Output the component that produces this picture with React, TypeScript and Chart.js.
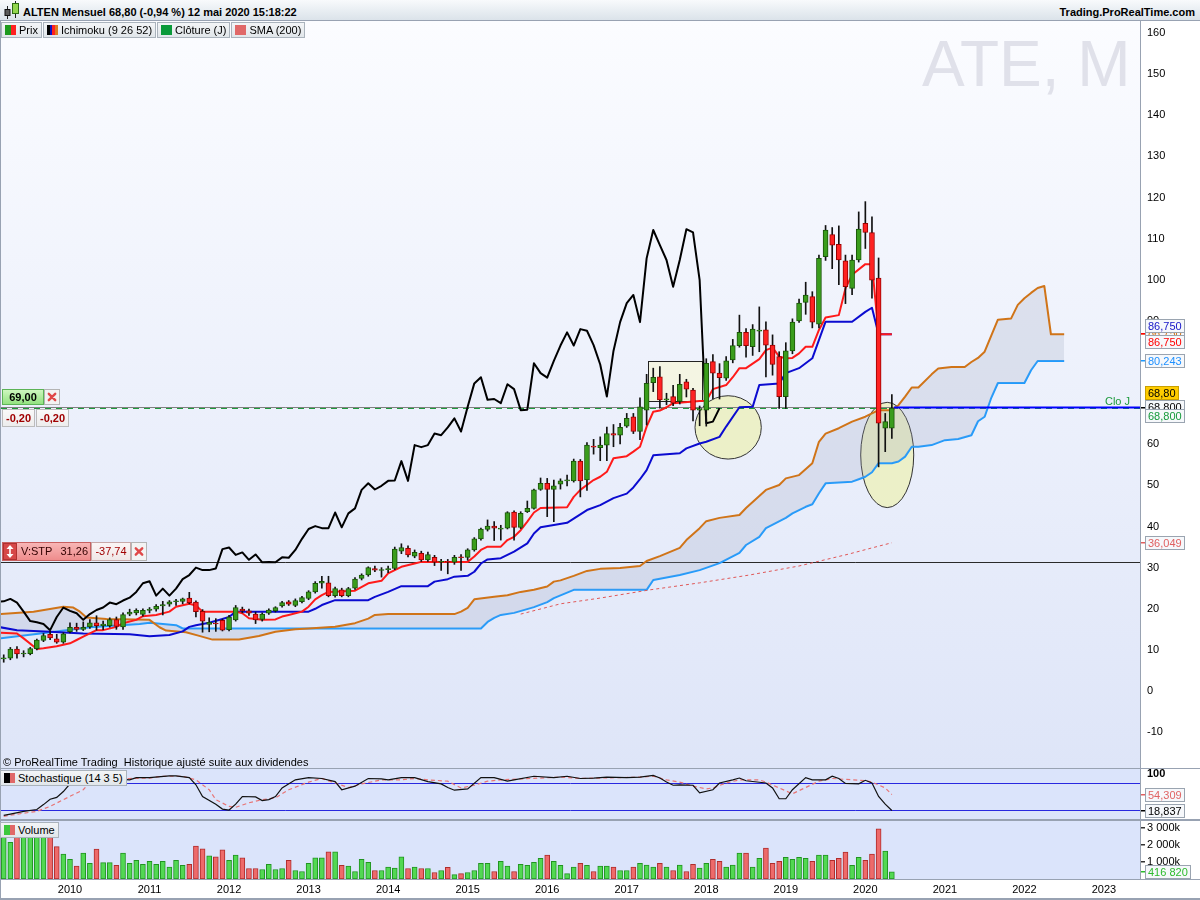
import React, { useEffect, useRef } from "react";
import { Chart, registerables } from "chart.js";

Chart.register(...registerables);

const FONT = 'Arial, "Liberation Sans", Helvetica, sans-serif';

// ---------------- data ----------------
// month index: 0 = January 2009. First candle = March 2009 (index 2), last = May 2020 (index 136)
const FIRST_MONTH = 2;

const OPEN = [
  7.8, 8.0, 10.2, 9.0, 9.1, 10.3, 12.3, 13.8, 12.7, 11.9,
  14.4, 15.5, 15.0, 15.6, 16.6, 15.9, 15.9, 17.4, 15.6, 18.7, 19.0, 18.6,
  19.6, 19.9, 20.7, 21.1, 21.7, 21.8, 22.6, 21.6, 19.4, 16.2, 16.5, 17.2,
  14.9, 17.3, 19.9, 19.5, 18.7, 17.4, 18.9, 19.5, 20.7, 21.7, 20.8, 21.7,
  22.5, 24.1, 26.2, 26.3, 23.2, 24.6, 23.2, 25.0, 27.4, 28.2, 29.8, 29.3,
  29.5, 29.8, 34.0, 34.7, 32.8, 33.5, 31.9, 32.5, 31.3, 31.4, 31.3, 32.5,
  32.5, 34.3, 37.0, 39.3, 40.1, 39.6, 39.6, 43.5, 39.8, 43.6, 44.4, 49.0,
  50.5, 49.0, 50.3, 51.1, 51.1, 55.9, 51.3, 59.5, 59.2, 59.8, 62.6, 62.2,
  64.4, 66.7, 63.1, 68.3, 75.0, 76.4, 70.8, 71.6, 70.4, 75.2, 73.2, 68.3,
  68.3, 80.1, 77.3, 76.1, 80.5, 84.0, 87.2, 83.7, 87.5, 87.8, 84.1, 81.3,
  71.6, 82.7, 90.0, 94.5, 95.9, 89.2, 105.6, 111.0, 108.6, 104.6, 97.9, 104.8,
  113.7, 111.5, 100.4, 63.9, 63.9,
];
const HIGH = [
  8.8, 10.6, 10.8, 9.8, 10.6, 12.6, 14.0, 14.5, 13.8, 14.2,
  16.6, 16.5, 16.8, 17.4, 18.3, 17.0, 17.8, 18.0, 19.0, 19.9, 20.0, 20.0,
  20.3, 21.0, 21.8, 22.0, 22.3, 22.6, 24.0, 21.9, 19.8, 17.8, 17.6, 17.5,
  18.4, 20.8, 20.4, 19.9, 19.2, 19.0, 20.0, 20.5, 21.8, 22.0, 22.4, 23.0,
  24.4, 26.6, 27.9, 27.9, 25.3, 25.0, 25.2, 27.6, 28.5, 30.2, 30.4, 30.0,
  30.4, 35.0, 35.8, 35.3, 34.3, 34.0, 33.8, 33.0, 32.0, 32.0, 33.0, 33.2,
  34.6, 37.3, 39.6, 41.6, 41.2, 40.3, 43.6, 43.8, 43.6, 46.2, 49.1, 51.8,
  51.7, 51.3, 51.6, 52.5, 56.4, 56.3, 60.4, 61.2, 61.8, 64.2, 64.8, 65.1,
  67.5, 67.5, 71.3, 77.0, 78.5, 78.9, 72.4, 74.3, 77.0, 75.8, 73.6, 69.3,
  80.8, 81.8, 79.6, 81.3, 85.5, 91.4, 88.1, 89.1, 93.4, 89.8, 86.6, 82.5,
  84.7, 90.5, 95.3, 99.4, 97.1, 106.0, 113.2, 112.7, 113.1, 106.0, 106.0, 116.5,
  119.0, 115.3, 105.3, 67.5, 72.1,
];
const LOW = [
  7.0, 7.6, 8.0, 8.3, 8.8, 10.0, 12.0, 12.5, 11.6, 11.6,
  14.1, 14.5, 14.7, 15.2, 14.8, 14.9, 15.5, 15.0, 15.0, 18.3, 18.5, 18.2,
  19.0, 19.4, 18.5, 20.6, 20.8, 21.2, 21.2, 18.0, 14.3, 14.4, 14.5, 14.6,
  14.6, 17.0, 19.0, 18.4, 16.4, 17.0, 18.6, 19.2, 20.4, 20.8, 20.5, 21.4,
  22.2, 23.8, 25.0, 22.9, 22.8, 22.9, 22.9, 24.7, 27.0, 27.9, 29.0, 27.7,
  28.8, 29.5, 33.4, 32.6, 32.4, 31.5, 31.5, 30.5, 29.3, 28.5, 30.8, 29.3,
  31.8, 34.0, 36.7, 38.9, 36.6, 36.7, 39.4, 36.7, 39.5, 43.4, 44.2, 48.8,
  42.4, 41.2, 49.1, 49.9, 50.8, 47.2, 48.8, 57.6, 56.0, 56.0, 59.4, 60.1,
  64.1, 62.6, 61.1, 64.7, 72.8, 68.8, 69.6, 69.4, 69.8, 71.5, 65.7, 64.5,
  64.4, 71.1, 71.0, 75.5, 79.8, 83.6, 81.2, 81.6, 82.5, 76.4, 76.8, 68.7,
  68.7, 82.0, 89.6, 91.6, 88.3, 88.3, 104.7, 102.7, 98.8, 94.2, 96.4, 104.3,
  107.6, 95.5, 54.5, 58.2, 61.4,
];
const CLOSE = [
  7.9, 10.2, 9.0, 9.1, 10.3, 12.4, 13.5, 12.9, 11.9, 13.9,
  15.5, 15.0, 15.5, 16.6, 15.9, 16.3, 17.4, 15.7, 18.6, 19.2, 19.6, 19.6,
  19.9, 20.6, 21.0, 21.7, 21.8, 22.4, 21.5, 19.3, 17.0, 16.7, 16.3, 14.8,
  18.0, 20.3, 19.5, 18.9, 17.3, 18.7, 19.7, 20.3, 21.5, 21.1, 22.0, 22.7,
  24.1, 26.2, 26.7, 23.2, 24.9, 23.2, 24.9, 27.2, 28.2, 30.0, 29.4, 29.4,
  29.8, 34.5, 34.9, 33.1, 33.7, 31.9, 33.2, 31.3, 31.4, 31.3, 32.5, 32.4,
  34.3, 37.0, 39.4, 40.1, 39.6, 39.6, 43.4, 39.8, 43.2, 44.4, 48.9, 50.5,
  49.0, 49.9, 51.1, 51.2, 55.9, 51.1, 59.8, 59.3, 59.8, 62.6, 62.2, 64.1,
  66.3, 63.1, 69.1, 74.8, 76.3, 70.8, 71.0, 70.0, 74.6, 73.4, 68.3, 68.4,
  79.7, 77.3, 76.2, 80.3, 84.0, 87.2, 84.0, 88.0, 87.6, 84.1, 79.4, 71.6,
  82.7, 89.7, 94.3, 96.3, 89.7, 105.2, 112.1, 108.4, 104.8, 98.3, 104.8, 112.3,
  111.5, 99.9, 65.1, 65.5, 68.8,
];
// monthly volume, thousands of shares
const VOLUME_K = [
  2600, 2160, 2800, 2600, 2500, 2900, 2500, 2450, 1900, 1460,
  1160, 760, 1520, 920, 1760, 960, 960, 800, 1520, 920, 1100, 860,
  1040, 860, 1040, 700, 1100, 800, 860, 1940, 1780, 1360, 1300, 1720,
  1100, 1400, 1240, 620, 620, 560, 860, 560, 620, 1100, 500, 440,
  920, 1240, 1240, 1600, 1600, 800, 760, 440, 1160, 980, 500, 500,
  700, 640, 1300, 620, 700, 620, 620, 380, 500, 680, 260, 320,
  380, 500, 920, 920, 440, 1040, 760, 440, 860, 800, 980, 1220,
  1400, 1040, 800, 320, 700, 920, 800, 440, 760, 760, 700, 500,
  500, 700, 920, 820, 700, 920, 700, 500, 820, 440, 860, 640,
  920, 1160, 1040, 700, 820, 1520, 1520, 700, 1220, 1820, 920, 1040,
  1280, 1160, 1280, 1220, 1040, 1400, 1400, 1100, 1220, 1580, 800, 1280,
  1100, 1460, 2950, 1640, 416.82,
];

// Ichimoku (9 26 52) lines: [month index, value]
const TENKAN = [
  [1.5, 14.2], [4, 14.0], [5, 12.8], [7, 10.2], [8, 10.4], [10, 10.9], [12, 11.6], [13, 12.4], [14, 13.2], [15, 14.0],
  [16, 14.8], [17, 14.8], [19, 15.6], [20, 16.5], [22, 17.3], [23, 18.2], [25, 18.5], [27, 19.3], [28, 20.5], [30, 21.2],
  [31, 20.8], [32, 19.3], [37, 19.3], [38, 18.9], [39, 17.7], [41, 17.3], [43, 17.4], [44, 18.1], [45, 18.5], [47, 19.3],
  [48, 20.5], [49, 22.3], [50, 23.3], [51, 24.1], [55, 24.4], [57, 26.2], [59, 26.8], [60, 28.6], [61, 29.4], [62, 30.2],
  [64, 31.0], [65, 31.4], [72, 31.4], [73, 32.7], [74, 34.3], [75, 35.1], [77, 35.1], [78, 36.7], [79, 37.5], [80, 39.1],
  [81, 41.2], [82, 43.4], [83, 44.5], [87, 44.7], [88, 47.2], [89, 48.9], [91, 51.3], [92, 52.1], [93, 53.3], [94, 56.6],
  [96, 57.1], [97, 58.2], [98, 59.4], [99, 64.3], [100, 67.9], [101, 68.2], [102, 69.0], [103, 70.0], [107, 70.5], [108, 70.6],
  [109, 73.4], [111, 74.4], [112, 76.3], [113, 78.5], [114, 78.5], [116, 80.7], [117, 82.9], [118, 83.5], [119, 81.3], [120, 80.9],
  [121, 81.0], [122, 82.1], [123, 83.7], [124, 83.7], [125, 87.8], [126, 90.8], [128, 91.4], [129, 97.9], [130, 101.2], [132, 103.8],
  [133, 103.8], [134, 86.75], [136, 86.75],
];
const KIJUN = [
  [1.5, 15.5], [4, 14.8], [9, 14.4], [14, 14.0], [21, 13.8], [24, 13.3], [27, 13.6], [29, 14.5], [30, 15.6], [31, 16.0],
  [33, 16.6], [35, 17.5], [36, 18.0], [37, 19.3], [48, 19.3], [49, 20.0], [50, 20.9], [52, 22.1], [57, 22.1], [58, 22.9],
  [60, 24.1], [62, 25.5], [66, 25.5], [67, 26.6], [69, 27.2], [70, 27.8], [72, 28.0], [73, 29.0], [74, 31.0], [75, 32.0],
  [77, 32.3], [79, 33.9], [81, 35.9], [82, 38.3], [83, 39.8], [87, 40.9], [88, 41.9], [90, 44.0], [92, 45.2], [94, 46.9],
  [96, 48.0], [97, 49.5], [98, 51.5], [99, 53.7], [100, 57.3], [104, 57.8], [105, 59.0], [107, 60.2], [108, 60.6], [110, 61.8],
  [111, 64.3], [113, 69.0], [115, 69.1], [116, 74.4], [119, 74.8], [120, 77.3], [122, 78.5], [124, 80.9], [126, 89.8], [130, 89.8],
  [132, 92.2], [133, 93.2], [134, 86.75], [136, 86.75],
];
const SENKOU_A = [
  [1.5, 18.7], [6.5, 19.3], [11, 20.5], [12.5, 20.3], [13.5, 19.3], [14.5, 17.9], [17.5, 17.5], [24, 17.3], [25.5, 15.5], [26.5, 14.7],
  [29.5, 14.3], [31.5, 13.4], [33.5, 12.5], [37.5, 12.5], [40.5, 13.4], [43, 14.4], [46, 15.0], [48, 15.2], [52, 15.6], [55, 16.5],
  [57, 17.6], [58, 18.5], [60, 18.7], [70, 18.7], [71, 19.3], [72, 20.2], [73, 22.3], [76, 22.9], [78, 23.3], [80, 24.1],
  [82, 24.6], [84, 25.4], [85, 26.6], [86, 26.9], [88, 28.0], [90, 29.2], [92, 29.7], [95, 29.9], [98, 30.4], [99, 31.6],
  [101, 32.8], [104, 34.8], [105, 36.7], [107, 39.6], [108, 41.3], [110, 42.1], [113, 42.8], [114, 44.5], [116, 47.4], [117, 48.9],
  [119, 50.1], [120, 51.7], [122, 52.5], [124, 55.4], [125, 60.6], [126, 62.6], [128, 63.9], [130, 65.5], [132, 66.7], [133, 67.5],
  [134, 68.3], [136, 68.3], [137, 69.5], [138, 71.6], [139, 73.8], [140, 73.8], [142, 77.0], [143, 78.4], [145, 78.8], [147, 78.8],
  [148, 80.0], [149, 81.0], [150, 82.5], [151, 86.4], [152, 90.3], [154, 90.6], [155, 93.9], [156, 95.5], [157, 96.8], [158, 98.0],
  [159, 98.5], [160, 86.75], [162, 86.75],
];
const SENKOU_B = [
  [1.5, 12.8], [7.5, 14.0], [15, 15.5], [22.5, 16.3], [24, 16.6], [28, 16.0], [29, 15.2], [74, 15.2], [75, 16.8], [76, 17.8],
  [77, 18.5], [79, 19.0], [82, 20.4], [84, 21.6], [85, 22.6], [88, 24.6], [99, 24.6], [100, 27.0], [104, 28.2], [107, 29.4],
  [110, 31.1], [113, 33.6], [114, 35.5], [116, 37.5], [117, 39.6], [120, 42.1], [121, 43.2], [123, 44.8], [124, 45.4], [125, 48.1],
  [126, 50.5], [130, 50.9], [131, 51.5], [132, 52.1], [133, 53.2], [134, 55.4], [136, 55.4], [137, 55.8], [138, 57.0], [139, 59.4],
  [140, 59.4], [142, 59.8], [144, 61.0], [146, 61.3], [148, 62.2], [149, 65.6], [150, 66.7], [151, 71.3], [152, 74.9], [156, 74.9],
  [157, 78.0], [158, 80.243], [162, 80.243],
];
const SMA_200 = [
  [80, 18.7], [86, 21.2], [92, 22.6], [99.5, 24.6], [107, 26.3], [114.5, 28.2], [122, 30.4], [129.5, 33.3], [133, 34.8], [136, 36.049],
];
const CHIKOU_SHIFT = 26;

// Stochastic (14 3 5)
const STOCH_K = [
  [2, 8], [3, 11], [5, 17], [7, 21], [8, 32], [9, 44], [10, 48], [11, 61], [12, 78], [14, 87],
  [16, 91], [19, 89], [21, 87], [22, 92], [24, 92], [27, 96], [28, 96], [30, 92], [31, 76], [32, 50],
  [34, 33], [35, 22], [36, 20], [37, 33], [38, 50], [40, 49], [41, 41], [42, 43], [43, 50], [44, 69],
  [46, 87], [48, 92], [50, 90], [52, 83], [53, 65], [55, 73], [57, 90], [59, 89], [60, 87], [62, 92],
  [64, 92], [66, 83], [68, 78], [69, 70], [70, 64], [72, 67], [74, 92], [76, 92], [78, 84], [79, 87],
  [82, 95], [85, 92], [87, 95], [89, 90], [91, 91], [93, 93], [96, 92], [98, 93], [100, 97], [101, 91],
  [102, 82], [103, 75], [104, 76], [106, 75], [107, 58], [109, 65], [110, 80], [112, 87], [113, 91], [114, 85],
  [117, 80], [118, 69], [119, 45], [120, 45], [121, 65], [123, 92], [124, 87], [126, 87], [127, 95], [128, 90],
  [129, 79], [131, 78], [132, 86], [133, 80], [134, 50], [135, 33], [136, 18.837],
];
const STOCH_D = [
  [2, 6], [5, 13], [7, 17], [9, 28], [11, 43], [14, 65], [15, 82], [18, 90], [21, 90], [24, 91],
  [26, 95], [29, 95], [31, 87], [33, 65], [34, 43], [36, 28], [37, 26], [39, 36], [41, 43], [43, 47],
  [45, 65], [48, 82], [50, 90], [52, 80], [54, 70], [56, 78], [59, 87], [62, 87], [64, 90], [66, 87],
  [69, 84], [71, 69], [73, 75], [75, 84], [77, 87], [80, 89], [83, 91], [86, 93], [89, 90], [92, 91],
  [98, 93], [100, 95], [102, 87], [104, 82], [106, 73], [108, 67], [109, 69], [111, 80], [113, 87], [116, 87],
  [117, 82], [119, 69], [121, 56], [123, 70], [125, 84], [127, 90], [130, 87], [132, 85], [133, 82], [135, 69],
  [136, 54.309],
];

// axes
const YEAR_TICKS = [12, 24, 36, 48, 60, 72, 84, 96, 108, 120, 132, 144, 156, 168];
const YEAR_LABELS = ["2010", "2011", "2012", "2013", "2014", "2015", "2016", "2017", "2018", "2019", "2020", "2021", "2022", "2023"];
const PRICE_TICKS = [-10, 0, 10, 20, 30, 40, 50, 60, 70, 80, 90, 100, 110, 120, 130, 140, 150, 160];
const STOCH_TICKS = [100];
const VOLUME_TICKS = [1000, 2000, 3000];
const VOLUME_TICK_LABELS = ["1 000k", "2 000k", "3 000k"];
const X_MIN = 1.59;
const X_MAX = 173.44;
const PRICE_MIN = -18.72;
const PRICE_MAX = 162.92;

// levels & notes
const LAST_CLOSE = 68.8;
const STOP_LEVEL = 31.26;
const NOTE_BOX = [99.25, 107.3, 70.6, 80.2];
const NOTE_OVALS = [
  [111.3, 64.1, 5.0, 7.7],
  [135.3, 57.4, 4.0, 12.8],
];

// --------------- helpers ---------------
const pts = (arr: number[][]) => arr.map(([x, y]) => ({ x, y }));
const MONTHS = OPEN.map((_, i) => FIRST_MONTH + i);
const isUp = (i: number) => CLOSE[i] >= OPEN[i];

function font(size: number, bold = false) {
  return `${bold ? "bold " : ""}${size}px ${FONT}`;
}
function box(ctx: any, x: number, y: number, w: number, h: number, fill: any, stroke?: string) {
  ctx.fillStyle = fill;
  ctx.fillRect(x, y, w, h);
  if (stroke) {
    ctx.strokeStyle = stroke;
    ctx.lineWidth = 1;
    ctx.strokeRect(x + 0.5, y + 0.5, w - 1, h - 1);
  }
}
function vgrad(ctx: any, y: number, h: number, c1: string, c2: string) {
  const g = ctx.createLinearGradient(0, y, 0, y + h);
  g.addColorStop(0, c1);
  g.addColorStop(1, c2);
  return g;
}
function cross(ctx: any, cx: number, cy: number, s: number, color: string) {
  ctx.save();
  ctx.strokeStyle = color;
  ctx.lineWidth = 2.4;
  ctx.lineCap = "round";
  ctx.beginPath();
  ctx.moveTo(cx - s, cy - s);
  ctx.lineTo(cx + s, cy + s);
  ctx.moveTo(cx + s, cy - s);
  ctx.lineTo(cx - s, cy + s);
  ctx.stroke();
  ctx.restore();
}
function valueBox(ctx: any, left: number, yc: number, text: string, color: string, bg = "#f6f8fb", border = "#9aa4b0") {
  ctx.font = font(11);
  const w = Math.ceil(ctx.measureText(text).width) + 6;
  const h = 14;
  const y = Math.round(yc - h / 2);
  box(ctx, left, y, w, h, bg, border);
  ctx.fillStyle = color;
  ctx.textAlign = "left";
  ctx.textBaseline = "middle";
  ctx.fillText(text, left + 3, y + h / 2 + 0.5);
}
function tickMark(ctx: any, x: number, y: number, color: string) {
  ctx.fillStyle = color;
  ctx.fillRect(x, Math.round(y) - 1, 4, 1.5);
}
const yAfterFit = (w: number) => (scale: any) => {
  scale.width = w;
  scale.paddingTop = 0;
  scale.paddingBottom = 0;
};

// --------------- plugins ---------------
const mainDecor = {
  id: "mainDecor",
  beforeDraw(chart: any) {
    const { ctx, chartArea: a, width, height } = chart;
    ctx.save();
    ctx.fillStyle = "#ffffff";
    ctx.fillRect(0, 0, width, height);
    ctx.fillStyle = vgrad(ctx, a.top, a.bottom - a.top, "#fbfcff", "#dee5f8");
    ctx.fillRect(a.left, a.top, a.right - a.left, a.bottom - a.top);
    ctx.fillStyle = "#98a2b2";
    ctx.fillRect(0, 0, 1, height);
    ctx.fillRect(a.right, 0, 1, height);
    ctx.font = font(64);
    ctx.fillStyle = "#e0e1ea";
    ctx.textAlign = "left";
    ctx.textBaseline = "alphabetic";
    ctx.fillText("ATE, M", 922, 65);
    ctx.restore();
  },
  beforeDatasetsDraw(chart: any) {
    const { ctx, chartArea: a, scales } = chart;
    const x = scales.x;
    const y = scales.y;
    ctx.save();
    ctx.beginPath();
    ctx.rect(a.left, a.top, a.right - a.left, a.bottom - a.top);
    ctx.clip();
    // rectangle note
    const rx0 = Math.round(x.getPixelForValue(NOTE_BOX[0]));
    const rx1 = Math.round(x.getPixelForValue(NOTE_BOX[1]));
    const ry0 = Math.round(y.getPixelForValue(NOTE_BOX[3]));
    const ry1 = Math.round(y.getPixelForValue(NOTE_BOX[2]));
    ctx.fillStyle = "rgba(244,246,222,0.85)";
    ctx.fillRect(rx0, ry0, rx1 - rx0, ry1 - ry0);
    ctx.strokeStyle = "#222";
    ctx.lineWidth = 1;
    ctx.strokeRect(rx0 + 0.5, ry0 + 0.5, rx1 - rx0, ry1 - ry0);
    // ellipse notes
    for (const [cm, cv, rm, rv] of NOTE_OVALS) {
      const cx = x.getPixelForValue(cm);
      const cy = y.getPixelForValue(cv);
      const rxp = Math.abs(x.getPixelForValue(cm + rm) - cx);
      const ryp = Math.abs(y.getPixelForValue(cv + rv) - cy);
      ctx.beginPath();
      ctx.ellipse(cx, cy, rxp, ryp, 0, 0, Math.PI * 2);
      ctx.fillStyle = "rgba(236,240,188,0.8)";
      ctx.fill();
      ctx.strokeStyle = "#333";
      ctx.lineWidth = 1;
      ctx.stroke();
    }
    // stop level line
    const ys = Math.round(y.getPixelForValue(STOP_LEVEL)) + 0.5;
    ctx.strokeStyle = "#2a2a2a";
    ctx.lineWidth = 1;
    ctx.beginPath();
    ctx.moveTo(a.left, ys);
    ctx.lineTo(a.right, ys);
    ctx.stroke();
    // last close lines
    const yc = Math.round(y.getPixelForValue(LAST_CLOSE));
    ctx.strokeStyle = "#808080";
    ctx.beginPath();
    ctx.moveTo(a.left, yc - 0.5);
    ctx.lineTo(a.right, yc - 0.5);
    ctx.stroke();
    ctx.strokeStyle = "#1d9a3c";
    ctx.setLineDash([6, 5]);
    ctx.beginPath();
    ctx.moveTo(a.left, yc + 0.5);
    ctx.lineTo(a.right, yc + 0.5);
    ctx.stroke();
    ctx.restore();
  },
  afterDraw(chart: any) {
    const { ctx, chartArea: a, scales } = chart;
    const x = scales.x;
    const y = scales.y;
    const yc = Math.round(y.getPixelForValue(LAST_CLOSE));
    ctx.save();
    // blue projection line
    ctx.strokeStyle = "#0000ff";
    ctx.lineWidth = 2;
    ctx.beginPath();
    ctx.moveTo(x.getPixelForValue(MONTHS[MONTHS.length - 1] + 0.3), yc - 0.5);
    ctx.lineTo(a.right, yc - 0.5);
    ctx.stroke();
    ctx.font = font(11);
    ctx.fillStyle = "#1d9a3c";
    ctx.textAlign = "right";
    ctx.textBaseline = "middle";
    ctx.fillText("Clo J", a.right - 10, yc - 6);

    // left order boxes
    box(ctx, 2, yc - 19, 42, 16, vgrad(ctx, yc - 19, 16, "#d2f8c4", "#8fe07c"), "#5cb356");
    ctx.font = font(11, true);
    ctx.fillStyle = "#000";
    ctx.textAlign = "center";
    ctx.fillText("69,00", 23, yc - 10.5);
    box(ctx, 44, yc - 19, 16, 16, "#f3f3f3", "#b4b4b4");
    cross(ctx, 52, yc - 11, 3.2, "#e04848");
    box(ctx, 2, yc + 1, 33, 18, vgrad(ctx, yc + 1, 18, "#fafafa", "#ececec"), "#bcbcbc");
    box(ctx, 36, yc + 1, 33, 18, vgrad(ctx, yc + 1, 18, "#fafafa", "#ececec"), "#bcbcbc");
    ctx.fillStyle = "#a00000";
    ctx.fillText("-0,20", 18.5, yc + 10.5);
    ctx.fillText("-0,20", 52.5, yc + 10.5);

    // V:STP box
    const yv = Math.round(y.getPixelForValue(STOP_LEVEL));
    box(ctx, 2, yv - 20, 89, 19, vgrad(ctx, yv - 20, 19, "#f8b8b8", "#ee8a8a"), "#c86060");
    box(ctx, 3, yv - 19, 14, 17, "#d64848", "#b03030");
    ctx.strokeStyle = "#fff";
    ctx.fillStyle = "#fff";
    ctx.lineWidth = 1.6;
    ctx.beginPath();
    ctx.moveTo(10, yv - 15);
    ctx.lineTo(10, yv - 6);
    ctx.stroke();
    ctx.beginPath();
    ctx.moveTo(6.5, yv - 13);
    ctx.lineTo(10, yv - 17);
    ctx.lineTo(13.5, yv - 13);
    ctx.closePath();
    ctx.fill();
    ctx.beginPath();
    ctx.moveTo(6.5, yv - 8);
    ctx.lineTo(10, yv - 4);
    ctx.lineTo(13.5, yv - 8);
    ctx.closePath();
    ctx.fill();
    ctx.font = font(11);
    ctx.fillStyle = "#300";
    ctx.textAlign = "left";
    ctx.fillText("V:STP", 21, yv - 10);
    ctx.textAlign = "right";
    ctx.fillText("31,26", 88, yv - 10);
    box(ctx, 91, yv - 20, 40, 19, vgrad(ctx, yv - 20, 19, "#fcf6f6", "#efe6e6"), "#c8a8a8");
    ctx.fillStyle = "#a00000";
    ctx.textAlign = "center";
    ctx.fillText("-37,74", 111, yv - 10);
    box(ctx, 131, yv - 20, 16, 19, "#f3f3f3", "#b4b4b4");
    cross(ctx, 139, yv - 10.5, 3.2, "#e04848");

    // right axis value boxes
    const L = a.right + 5;
    const yk = y.getPixelForValue(KIJUN[KIJUN.length - 1][1]);
    const ya = y.getPixelForValue(SENKOU_A[SENKOU_A.length - 1][1]);
    const yt = y.getPixelForValue(TENKAN[TENKAN.length - 1][1]);
    const yb = y.getPixelForValue(SENKOU_B[SENKOU_B.length - 1][1]);
    const ym = y.getPixelForValue(SMA_200[SMA_200.length - 1][1]);
    tickMark(ctx, a.right + 1, ya, "#d07418");
    tickMark(ctx, a.right + 1, yt, "#ff0000");
    tickMark(ctx, a.right + 1, yb, "#1e9bff");
    tickMark(ctx, a.right + 1, yc, "#000");
    tickMark(ctx, a.right + 1, ym, "#e06060");
    valueBox(ctx, L, ya - 1.5, "86,750", "#d07418");
    valueBox(ctx, L, yk - 8.5, "86,750", "#1414c8");
    valueBox(ctx, L, yt + 8, "86,750", "#ff0000");
    valueBox(ctx, L, yb, "80,243", "#1e90ff");
    valueBox(ctx, L, yc - 1, "68,800", "#000");
    valueBox(ctx, L, yc - 15, "68,80", "#000", "#ffcc00", "#c9a000");
    valueBox(ctx, L, yc + 8, "68,800", "#159a3a");
    valueBox(ctx, L, ym, "36,049", "#e06060");
    ctx.restore();
  },
};

const stochDecor = {
  id: "stochDecor",
  beforeDraw(chart: any) {
    const { ctx, chartArea: a, width, height } = chart;
    ctx.save();
    ctx.fillStyle = "#ffffff";
    ctx.fillRect(0, 0, width, height);
    ctx.fillStyle = "#dbe4fb";
    ctx.fillRect(a.left, a.top, a.right - a.left, a.bottom - a.top);
    ctx.fillStyle = "#98a2b2";
    ctx.fillRect(0, 0, 1, height);
    ctx.fillRect(a.right, 0, 1, height);
    ctx.restore();
  },
  beforeDatasetsDraw(chart: any) {
    const { ctx, chartArea: a, scales } = chart;
    ctx.save();
    ctx.strokeStyle = "#2828e0";
    ctx.lineWidth = 1;
    for (const v of [80, 20]) {
      const yy = Math.round(scales.y.getPixelForValue(v)) + 0.5;
      ctx.beginPath();
      ctx.moveTo(a.left, yy);
      ctx.lineTo(a.right, yy);
      ctx.stroke();
    }
    ctx.restore();
  },
  afterDraw(chart: any) {
    const { ctx, chartArea: a, scales } = chart;
    ctx.save();
    const yD = scales.y.getPixelForValue(STOCH_D[STOCH_D.length - 1][1]);
    const yK = scales.y.getPixelForValue(STOCH_K[STOCH_K.length - 1][1]);
    tickMark(ctx, a.right + 1, yD, "#e06060");
    tickMark(ctx, a.right + 1, yK, "#000");
    valueBox(ctx, a.right + 5, yD, "54,309", "#e06464");
    valueBox(ctx, a.right + 5, yK, "18,837", "#000");
    ctx.restore();
  },
};

const volDecor = {
  id: "volDecor",
  beforeDraw(chart: any) {
    const { ctx, chartArea: a, width, height } = chart;
    ctx.save();
    ctx.fillStyle = "#ffffff";
    ctx.fillRect(0, 0, width, height);
    ctx.fillStyle = "#dbe4fb";
    ctx.fillRect(a.left, a.top, a.right - a.left, a.bottom - a.top);
    ctx.fillStyle = "#98a2b2";
    ctx.fillRect(0, 0, 1, height);
    ctx.fillRect(a.right, 0, 1, a.bottom + 1);
    ctx.fillRect(0, a.bottom, width, 1);
    ctx.fillRect(0, height - 2, width, 2);
    ctx.restore();
  },
  afterDraw(chart: any) {
    const { ctx, chartArea: a, scales } = chart;
    ctx.save();
    for (const v of VOLUME_TICKS) tickMark(ctx, a.right + 1, scales.y.getPixelForValue(v), "#333");
    const yl = scales.y.getPixelForValue(VOLUME_K[VOLUME_K.length - 1]);
    tickMark(ctx, a.right + 1, yl, "#2dbb2d");
    valueBox(ctx, a.right + 5, yl, "416 820", "#2dbb2d");
    ctx.restore();
  },
};

// --------------- component ---------------
function LegendBox({ colors, label }: { colors: string[]; label: string }) {
  return (
    <div
      style={{
        display: "flex",
        alignItems: "center",
        height: 14,
        padding: "0 3px 0 3px",
        background: "linear-gradient(#f3f5f7, #e1e6ea)",
        border: "1px solid #aab3bc",
        fontSize: 11,
        lineHeight: "14px",
        color: "#000",
        whiteSpace: "nowrap",
      }}
    >
      <span style={{ display: "flex", width: 11, height: 10, marginRight: 3 }}>
        {colors.map((c, i) => (
          <span key={i} style={{ flex: 1, background: c }} />
        ))}
      </span>
      {label}
    </div>
  );
}

export default function App() {
  const mainRef = useRef<HTMLCanvasElement>(null);
  const stochRef = useRef<HTMLCanvasElement>(null);
  const volRef = useRef<HTMLCanvasElement>(null);

  useEffect(() => {
    const charts: any[] = [];
    const xHidden = { type: "linear", min: X_MIN, max: X_MAX, offset: false, display: false, grid: { display: false } };
    const common = {
      responsive: false,
      maintainAspectRatio: false,
      animation: false,
      events: [],
      layout: { padding: { left: 1, right: 0, top: 0, bottom: 0 } },
      plugins: { legend: { display: false }, tooltip: { enabled: false } },
    };

    const bodyData = MONTHS.map((m, i) => ({ x: m, y: [OPEN[i], CLOSE[i]] }));
    const wickData = MONTHS.map((m, i) => ({ x: m, y: [LOW[i], HIGH[i]] }));
    const chikou = MONTHS.map((m, i) => ({ x: m - CHIKOU_SHIFT, y: CLOSE[i] }));
    const line = (data: any[], color: string, order: number, extra: any = {}) => ({
      type: "line",
      data,
      borderColor: color,
      borderWidth: 2,
      pointRadius: 0,
      tension: 0,
      fill: false,
      order,
      borderJoinStyle: "round",
      ...extra,
    });

    if (mainRef.current) {
      charts.push(
        new Chart(mainRef.current, {
          type: "bar",
          data: {
            datasets: [
              {
                type: "bar",
                data: bodyData,
                backgroundColor: MONTHS.map((_, i) => (isUp(i) ? "#3a9d1c" : "#ff2222")),
                borderColor: MONTHS.map((_, i) => (isUp(i) ? "#1a5409" : "#9a0000")),
                borderWidth: 1,
                borderSkipped: false,
                barThickness: 5,
                minBarLength: 1,
                grouped: false,
                order: 0,
              },
              {
                type: "bar",
                data: wickData,
                backgroundColor: "#111",
                borderWidth: 0,
                barThickness: 1,
                grouped: false,
                order: 1,
              },
              line(pts(TENKAN), "#ff1a1a", 2),
              line(pts(KIJUN), "#0b0bd0", 3),
              line(chikou, "#000000", 4),
              line(pts(SMA_200), "#e05858", 5, { borderWidth: 1, borderDash: [3, 3] }),
              line(pts(SENKOU_A), "#d07418", 6, { fill: "+1", backgroundColor: "rgba(150,158,185,0.22)" }),
              line(pts(SENKOU_B), "#1e9bff", 7),
            ],
          },
          options: {
            ...common,
            scales: {
              x: xHidden,
              y: {
                type: "linear",
                position: "right",
                min: PRICE_MIN,
                max: PRICE_MAX,
                grid: { display: false, drawTicks: false },
                border: { display: false },
                afterBuildTicks: (s: any) => {
                  s.ticks = PRICE_TICKS.map((v) => ({ value: v }));
                },
                afterFit: yAfterFit(60),
                ticks: { font: { family: FONT, size: 11 }, color: "#000", padding: 7, autoSkip: false, callback: (v: any) => String(v) },
              },
            },
          } as any,
          plugins: [mainDecor],
        } as any)
      );
    }

    if (stochRef.current) {
      charts.push(
        new Chart(stochRef.current, {
          type: "line",
          data: {
            datasets: [
              { data: pts(STOCH_K), borderColor: "#111", borderWidth: 1.2, pointRadius: 0, tension: 0 },
              { data: pts(STOCH_D), borderColor: "#e87474", borderWidth: 1.2, borderDash: [4, 3], pointRadius: 0, tension: 0 },
            ],
          },
          options: {
            ...common,
            scales: {
              x: xHidden,
              y: {
                type: "linear",
                position: "right",
                min: 0,
                max: 111.1,
                grid: { display: false, drawTicks: false },
                border: { display: false },
                afterBuildTicks: (s: any) => {
                  s.ticks = STOCH_TICKS.map((v) => ({ value: v }));
                },
                afterFit: yAfterFit(60),
                ticks: { font: { family: FONT, size: 11, weight: "bold" }, color: "#000", padding: 7, callback: (v: any) => String(v) },
              },
            },
          } as any,
          plugins: [stochDecor],
        } as any)
      );
    }

    if (volRef.current) {
      charts.push(
        new Chart(volRef.current, {
          type: "bar",
          data: {
            datasets: [
              {
                data: MONTHS.map((m, i) => ({ x: m, y: VOLUME_K[i] })),
                backgroundColor: MONTHS.map((_, i) => (isUp(i) ? "#52d852" : "#ee6a6a")),
                borderColor: MONTHS.map((_, i) => (isUp(i) ? "#219421" : "#b02c2c")),
                borderWidth: 1,
                borderSkipped: false,
                barThickness: 5,
                grouped: false,
              },
            ],
          },
          options: {
            ...common,
            scales: {
              x: {
                type: "linear",
                min: X_MIN,
                max: X_MAX,
                offset: false,
                position: "bottom",
                grid: { display: false, drawTicks: false },
                border: { display: false },
                afterBuildTicks: (s: any) => {
                  s.ticks = YEAR_TICKS.map((v) => ({ value: v }));
                },
                afterFit: (s: any) => {
                  s.height = 21;
                  s.paddingLeft = 0;
                  s.paddingRight = 0;
                },
                ticks: {
                  font: { family: FONT, size: 11 },
                  color: "#000",
                  padding: 4,
                  maxRotation: 0,
                  autoSkip: false,
                  callback: (v: any) => YEAR_LABELS[YEAR_TICKS.indexOf(v)] ?? "",
                },
              },
              y: {
                type: "linear",
                position: "right",
                min: 0,
                max: 3412,
                grid: { display: false, drawTicks: false },
                border: { display: false },
                afterBuildTicks: (s: any) => {
                  s.ticks = VOLUME_TICKS.map((v) => ({ value: v }));
                },
                afterFit: yAfterFit(60),
                ticks: {
                  font: { family: FONT, size: 11 },
                  color: "#000",
                  padding: 7,
                  callback: (v: any) => VOLUME_TICK_LABELS[VOLUME_TICKS.indexOf(v)] ?? "",
                },
              },
            },
          } as any,
          plugins: [volDecor],
        } as any)
      );
    }

    return () => charts.forEach((c) => c.destroy());
  }, []);

  return (
    <div
      style={{
        position: "fixed",
        left: 0,
        top: 0,
        width: 1200,
        height: 900,
        background: "#98a2b2",
        overflow: "hidden",
        fontFamily: FONT,
      }}
    >
      <div
        style={{
          position: "absolute",
          left: 0,
          top: 0,
          width: 1200,
          height: 20,
          background: "linear-gradient(#f8fafc, #dbe3ea)",
          borderBottom: "1px solid #98a2b2",
        }}
      >
        <svg width="20" height="20" style={{ position: "absolute", left: 2, top: 0 }}>
          <line x1="5.5" y1="6" x2="5.5" y2="19" stroke="#222" />
          <rect x="3" y="9.5" width="5" height="6" fill="#5a5a5a" stroke="#111" />
          <line x1="13.5" y1="1" x2="13.5" y2="18" stroke="#222" />
          <rect x="10.5" y="3.5" width="6" height="10" fill="#93d64f" stroke="#2d6c12" />
        </svg>
        <span style={{ position: "absolute", left: 23, top: 2, fontSize: 11, lineHeight: "20px", fontWeight: "bold", color: "#000" }}>
          ALTEN Mensuel 68,80 (-0,94 %) 12 mai 2020 15:18:22
        </span>
        <span style={{ position: "absolute", right: 5, top: 2, fontSize: 11, lineHeight: "20px", fontWeight: "bold", color: "#000" }}>
          Trading.ProRealTime.com
        </span>
      </div>

      <canvas ref={mainRef} width={1200} height={747} style={{ position: "absolute", left: 0, top: 21 }} />
      <canvas ref={stochRef} width={1200} height={50} style={{ position: "absolute", left: 0, top: 769 }} />
      <canvas ref={volRef} width={1200} height={79} style={{ position: "absolute", left: 0, top: 821 }} />

      <div style={{ position: "absolute", left: 1, top: 22, display: "flex", gap: 1 }}>
        <LegendBox colors={["#1e9a1e", "#ff2020"]} label="Prix" />
        <LegendBox colors={["#000000", "#1010c0", "#ff2020", "#e07a20"]} label="Ichimoku (9 26 52)" />
        <LegendBox colors={["#0a9a3a"]} label="Clôture (J)" />
        <LegendBox colors={["#e06868"]} label="SMA (200)" />
      </div>
      <div style={{ position: "absolute", left: 0, top: 770 }}>
        <LegendBox colors={["#000000", "#e06868"]} label="Stochastique (14 3 5)" />
      </div>
      <div style={{ position: "absolute", left: 0, top: 822 }}>
        <LegendBox colors={["#3cc83c", "#e06868"]} label="Volume" />
      </div>
      <div style={{ position: "absolute", left: 3, top: 755, fontSize: 11, lineHeight: "14px", color: "#000", whiteSpace: "nowrap" }}>
        © ProRealTime Trading&nbsp; Historique ajusté suite aux dividendes
      </div>
    </div>
  );
}
